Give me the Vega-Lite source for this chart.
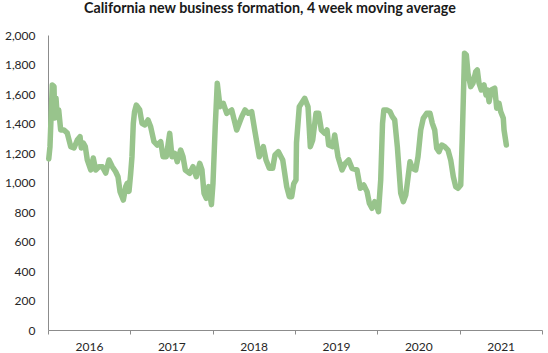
{
  "$schema": "https://vega.github.io/schema/vega-lite/v6.json",
  "autosize": "none",
  "width": 494,
  "height": 295,
  "padding": {"left": 48, "top": 35, "right": 6, "bottom": 23},
  "background": "white",
  "title": {
    "text": "California new business formation, 4 week moving average",
    "font": "Lato",
    "fontSize": 14.3,
    "fontWeight": "bold",
    "color": "#1a1a1a",
    "anchor": "middle",
    "dx": -25,
    "offset": 13
  },
  "data": {
    "values": [
      {"t": 2016.009, "v": 1160}, {"t": 2016.024, "v": 1243}, {"t": 2016.052, "v": 1661}, {"t": 2016.073, "v": 1650},
      {"t": 2016.081, "v": 1437}, {"t": 2016.097, "v": 1573}, {"t": 2016.113, "v": 1446}, {"t": 2016.130, "v": 1492},
      {"t": 2016.154, "v": 1356}, {"t": 2016.194, "v": 1356}, {"t": 2016.234, "v": 1335}, {"t": 2016.276, "v": 1243},
      {"t": 2016.316, "v": 1234}, {"t": 2016.356, "v": 1288}, {"t": 2016.389, "v": 1311}, {"t": 2016.404, "v": 1234},
      {"t": 2016.429, "v": 1268}, {"t": 2016.453, "v": 1243}, {"t": 2016.477, "v": 1153}, {"t": 2016.519, "v": 1085},
      {"t": 2016.550, "v": 1166}, {"t": 2016.579, "v": 1085}, {"t": 2016.619, "v": 1107}, {"t": 2016.660, "v": 1107},
      {"t": 2016.701, "v": 1064}, {"t": 2016.741, "v": 1153}, {"t": 2016.781, "v": 1107}, {"t": 2016.822, "v": 1073},
      {"t": 2016.850, "v": 1039}, {"t": 2016.875, "v": 938}, {"t": 2016.915, "v": 881}, {"t": 2016.944, "v": 972},
      {"t": 2016.963, "v": 995}, {"t": 2016.984, "v": 940}, {"t": 2017.004, "v": 1060}, {"t": 2017.020, "v": 1175},
      {"t": 2017.036, "v": 1400}, {"t": 2017.051, "v": 1480}, {"t": 2017.073, "v": 1525}, {"t": 2017.114, "v": 1492},
      {"t": 2017.142, "v": 1401}, {"t": 2017.175, "v": 1390}, {"t": 2017.215, "v": 1424}, {"t": 2017.247, "v": 1378},
      {"t": 2017.287, "v": 1277}, {"t": 2017.327, "v": 1254}, {"t": 2017.369, "v": 1277}, {"t": 2017.397, "v": 1175},
      {"t": 2017.437, "v": 1175}, {"t": 2017.478, "v": 1333}, {"t": 2017.506, "v": 1175}, {"t": 2017.539, "v": 1198},
      {"t": 2017.570, "v": 1141}, {"t": 2017.611, "v": 1220}, {"t": 2017.640, "v": 1175}, {"t": 2017.668, "v": 1085},
      {"t": 2017.721, "v": 1062}, {"t": 2017.761, "v": 1107}, {"t": 2017.801, "v": 1039}, {"t": 2017.843, "v": 1130},
      {"t": 2017.870, "v": 1085}, {"t": 2017.895, "v": 927}, {"t": 2017.923, "v": 893}, {"t": 2017.952, "v": 972},
      {"t": 2017.985, "v": 850}, {"t": 2018.004, "v": 995}, {"t": 2018.031, "v": 1378}, {"t": 2018.056, "v": 1673},
      {"t": 2018.089, "v": 1514}, {"t": 2018.129, "v": 1537}, {"t": 2018.171, "v": 1469}, {"t": 2018.198, "v": 1480},
      {"t": 2018.231, "v": 1492}, {"t": 2018.292, "v": 1356}, {"t": 2018.353, "v": 1446}, {"t": 2018.393, "v": 1492},
      {"t": 2018.433, "v": 1469}, {"t": 2018.474, "v": 1480}, {"t": 2018.514, "v": 1344}, {"t": 2018.566, "v": 1175},
      {"t": 2018.615, "v": 1243}, {"t": 2018.648, "v": 1153}, {"t": 2018.688, "v": 1096}, {"t": 2018.729, "v": 1096},
      {"t": 2018.757, "v": 1187}, {"t": 2018.797, "v": 1209}, {"t": 2018.851, "v": 1153}, {"t": 2018.899, "v": 972},
      {"t": 2018.931, "v": 904}, {"t": 2018.960, "v": 904}, {"t": 2018.984, "v": 990}, {"t": 2019.012, "v": 1017},
      {"t": 2019.018, "v": 1270}, {"t": 2019.052, "v": 1514}, {"t": 2019.118, "v": 1571}, {"t": 2019.158, "v": 1514},
      {"t": 2019.186, "v": 1243}, {"t": 2019.215, "v": 1288}, {"t": 2019.255, "v": 1469}, {"t": 2019.288, "v": 1469},
      {"t": 2019.320, "v": 1356}, {"t": 2019.361, "v": 1333}, {"t": 2019.389, "v": 1356}, {"t": 2019.409, "v": 1254},
      {"t": 2019.458, "v": 1243}, {"t": 2019.482, "v": 1322}, {"t": 2019.522, "v": 1175}, {"t": 2019.571, "v": 1085},
      {"t": 2019.611, "v": 1130}, {"t": 2019.652, "v": 1153}, {"t": 2019.692, "v": 1096}, {"t": 2019.753, "v": 1085},
      {"t": 2019.793, "v": 961}, {"t": 2019.835, "v": 983}, {"t": 2019.875, "v": 938}, {"t": 2019.903, "v": 859},
      {"t": 2019.935, "v": 825}, {"t": 2019.968, "v": 870}, {"t": 2019.996, "v": 836}, {"t": 2020.014, "v": 802},
      {"t": 2020.041, "v": 1017}, {"t": 2020.063, "v": 1400}, {"t": 2020.079, "v": 1492}, {"t": 2020.114, "v": 1492},
      {"t": 2020.154, "v": 1480}, {"t": 2020.182, "v": 1446}, {"t": 2020.211, "v": 1424}, {"t": 2020.243, "v": 1243},
      {"t": 2020.284, "v": 927}, {"t": 2020.316, "v": 870}, {"t": 2020.345, "v": 915}, {"t": 2020.364, "v": 995},
      {"t": 2020.397, "v": 1141}, {"t": 2020.425, "v": 1096}, {"t": 2020.466, "v": 1085}, {"t": 2020.494, "v": 1175},
      {"t": 2020.527, "v": 1356}, {"t": 2020.558, "v": 1435}, {"t": 2020.600, "v": 1469}, {"t": 2020.640, "v": 1469},
      {"t": 2020.668, "v": 1401}, {"t": 2020.697, "v": 1356}, {"t": 2020.721, "v": 1232}, {"t": 2020.749, "v": 1209},
      {"t": 2020.782, "v": 1254}, {"t": 2020.818, "v": 1243}, {"t": 2020.858, "v": 1220}, {"t": 2020.891, "v": 1153},
      {"t": 2020.923, "v": 1039}, {"t": 2020.952, "v": 972}, {"t": 2020.980, "v": 961}, {"t": 2021.013, "v": 983},
      {"t": 2021.032, "v": 1311}, {"t": 2021.044, "v": 1559}, {"t": 2021.059, "v": 1876}, {"t": 2021.081, "v": 1864},
      {"t": 2021.101, "v": 1740}, {"t": 2021.134, "v": 1650}, {"t": 2021.162, "v": 1673}, {"t": 2021.195, "v": 1752},
      {"t": 2021.214, "v": 1763}, {"t": 2021.235, "v": 1673}, {"t": 2021.263, "v": 1627}, {"t": 2021.296, "v": 1661},
      {"t": 2021.320, "v": 1593}, {"t": 2021.336, "v": 1627}, {"t": 2021.357, "v": 1548}, {"t": 2021.384, "v": 1627},
      {"t": 2021.426, "v": 1639}, {"t": 2021.450, "v": 1503}, {"t": 2021.478, "v": 1537}, {"t": 2021.499, "v": 1480},
      {"t": 2021.530, "v": 1435}, {"t": 2021.539, "v": 1356}, {"t": 2021.567, "v": 1254}
    ]
  },
  "mark": {"type": "line", "color": "#98c48c", "strokeWidth": 5.5, "strokeJoin": "round", "strokeCap": "round"},
  "encoding": {
    "x": {
      "field": "t",
      "type": "quantitative",
      "scale": {"domain": [2016, 2022], "nice": false, "zero": false},
      "axis": {
        "title": null,
        "values": [2016, 2017, 2018, 2019, 2020, 2021, 2022],
        "format": "d",
        "labelExpr": "datum.value == 2022 ? '' : datum.label",
        "labelOffset": 41,
        "labelAlign": "center",
        "grid": false,
        "domainColor": "#8c8c8c",
        "tickColor": "#8c8c8c",
        "tickSize": 4,
        "labelPadding": 7,
        "labelFont": "Lato",
        "labelFontSize": 12,
        "labelColor": "#262626"
      }
    },
    "y": {
      "field": "v",
      "type": "quantitative",
      "scale": {"domain": [0, 2000], "nice": false},
      "axis": {
        "title": null,
        "values": [0, 200, 400, 600, 800, 1000, 1200, 1400, 1600, 1800, 2000],
        "format": ",d",
        "grid": false,
        "ticks": false,
        "domainColor": "#8c8c8c",
        "labelPadding": 13,
        "labelFont": "Lato",
        "labelFontSize": 12,
        "labelColor": "#262626"
      }
    }
  },
  "config": {"view": {"stroke": null}}
}
